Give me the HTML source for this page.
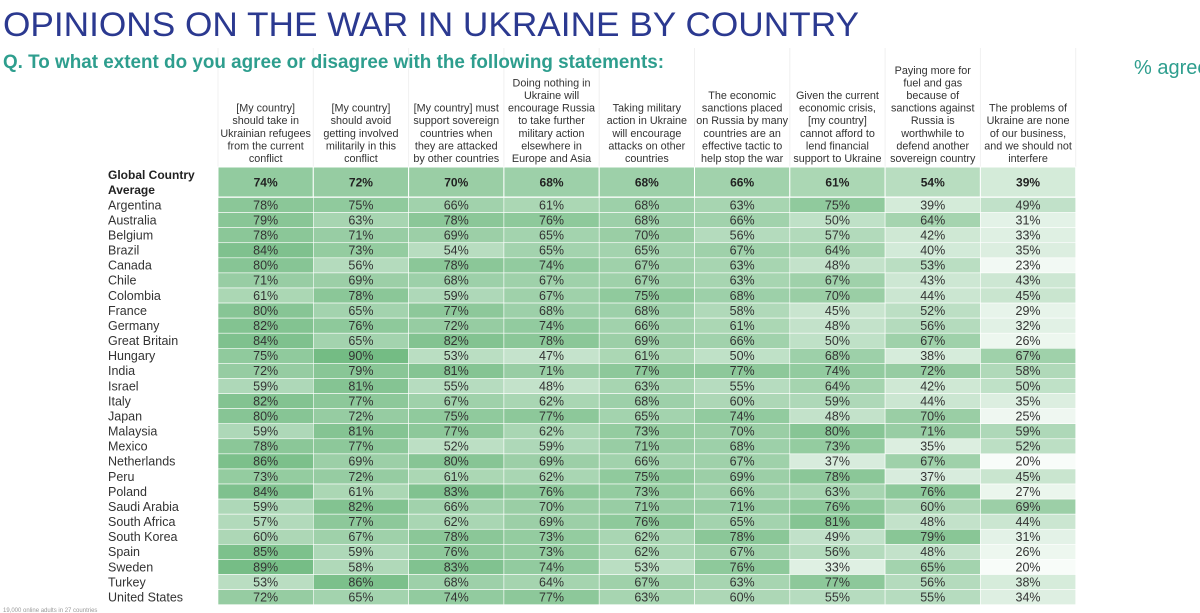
<!DOCTYPE html>
<html><head><meta charset="utf-8"><style>
html,body{margin:0;padding:0;background:#fff;width:1200px;height:613px;overflow:hidden}
svg{display:block;font-family:"Liberation Sans",Arial,sans-serif}
</style></head><body>
<svg id="chart" width="1200" height="613" viewBox="0 0 1200 613">
<g id="grid"></g>
<text x="3" y="36" font-size="34" fill="#2b3990" textLength="856" lengthAdjust="spacingAndGlyphs">OPINIONS ON THE WAR IN UKRAINE BY COUNTRY</text>
<text x="3" y="68" font-size="19" font-weight="bold" fill="#2e9e8e" textLength="661" lengthAdjust="spacingAndGlyphs">Q. To what extent do you agree or disagree with the following statements:</text>
<text x="1134" y="74" font-size="20" fill="#2e9e8e">% agree</text>
<text x="3" y="612" font-size="6" fill="#999">19,000 online adults in 27 countries</text>
</svg>
<script>
const statements = [
 ["[My country]","should take in","Ukrainian refugees","from the current","conflict"],
 ["[My country]","should avoid","getting involved","militarily in this","conflict"],
 ["[My country] must","support sovereign","countries when","they are attacked","by other countries"],
 ["Doing nothing in","Ukraine will","encourage Russia","to take further","military action","elsewhere in","Europe and Asia"],
 ["Taking military","action in Ukraine","will encourage","attacks on other","countries"],
 ["The economic","sanctions placed","on Russia by many","countries are an","effective tactic to","help stop the war"],
 ["Given the current","economic crisis,","[my country]","cannot afford to","lend financial","support to Ukraine"],
 ["Paying more for","fuel and gas","because of","sanctions against","Russia is","worthwhile to","defend another","sovereign country"],
 ["The problems of","Ukraine are none","of our business,","and we should not","interfere"]
];
const globalAverage = [74,72,70,68,68,66,61,54,39];
const countries = ["Argentina","Australia","Belgium","Brazil","Canada","Chile","Colombia","France","Germany","Great Britain","Hungary","India","Israel","Italy","Japan","Malaysia","Mexico","Netherlands","Peru","Poland","Saudi Arabia","South Africa","South Korea","Spain","Sweden","Turkey","United States"];
const values = [
 [78,75,66,61,68,63,75,39,49],
 [79,63,78,76,68,66,50,64,31],
 [78,71,69,65,70,56,57,42,33],
 [84,73,54,65,65,67,64,40,35],
 [80,56,78,74,67,63,48,53,23],
 [71,69,68,67,67,63,67,43,43],
 [61,78,59,67,75,68,70,44,45],
 [80,65,77,68,68,58,45,52,29],
 [82,76,72,74,66,61,48,56,32],
 [84,65,82,78,69,66,50,67,26],
 [75,90,53,47,61,50,68,38,67],
 [72,79,81,71,77,77,74,72,58],
 [59,81,55,48,63,55,64,42,50],
 [82,77,67,62,68,60,59,44,35],
 [80,72,75,77,65,74,48,70,25],
 [59,81,77,62,73,70,80,71,59],
 [78,77,52,59,71,68,73,35,52],
 [86,69,80,69,66,67,37,67,20],
 [73,72,61,62,75,69,78,37,45],
 [84,61,83,76,73,66,63,76,27],
 [59,82,66,70,71,71,76,60,69],
 [57,77,62,69,76,65,81,48,44],
 [60,67,78,73,62,78,49,79,31],
 [85,59,76,73,62,67,56,48,26],
 [89,58,83,74,53,76,33,65,20],
 [53,86,68,64,67,63,77,56,38],
 [72,65,74,77,63,60,55,55,34]
];
const NS="http://www.w3.org/2000/svg";
const g=document.getElementById("grid");
const x0=218,cw=95.3,hdrTop=48,gTop=167,gH=30,rTop=197.5,rh=15.08;
function colX(i){return x0+i*cw;}
function color(v){
  const t=Math.max(0,Math.min(1,(v-20)/70));
  const a=[248,252,249],b=[116,188,132];
  return "rgb("+a.map((c,k)=>Math.round(c+(b[k]-c)*t)).join(",")+")";
}
function el(tag,attrs,txt){const e=document.createElementNS(NS,tag);for(const k in attrs)e.setAttribute(k,attrs[k]);if(txt!=null)e.textContent=txt;g.appendChild(e);return e;}
for(let i=0;i<=9;i++){
  const l=el("line",{x1:colX(i),x2:colX(i),y1:hdrTop,y2:gTop,stroke:"#f0f0f0","stroke-width":1});
  
  
}
statements.forEach((lines,i)=>{
  const t=el("text",{x:colX(i)+cw/2,"text-anchor":"middle","font-size":"10.8",fill:"#333"});
  
  
  lines.forEach((s,j)=>{
    const ts=document.createElementNS(NS,"tspan");
    ts.setAttribute("x",colX(i)+cw/2);
    ts.setAttribute("y",162-(lines.length-1-j)*12.6);
    ts.textContent=s;t.appendChild(ts);
  });
});
const gl=el("text",{x:108,y:179,"font-size":"12","font-weight":"bold",fill:"#222"},"Global Country");


const gl2=el("text",{x:108,y:194,"font-size":"12","font-weight":"bold",fill:"#222"},"Average");


globalAverage.forEach((v,i)=>{
  const r=el("rect",{x:colX(i),y:gTop,width:cw,height:gH,fill:color(v),stroke:"#fff","stroke-width":1});
  
  
  const t=el("text",{x:colX(i)+cw/2,y:gTop+gH/2+4.5,"text-anchor":"middle","font-size":"12","font-weight":"bold",fill:"#222"},v+"%");
  
  
});
countries.forEach((c,r)=>{
  const y=rTop+r*rh;
  const lb=el("text",{x:108,y:y+rh/2+4.3,"font-size":"12.5",fill:"#333"},c);
  
  
  values[r].forEach((v,i)=>{
    const rc=el("rect",{x:colX(i),y:y,width:cw,height:rh,fill:color(v),stroke:"#fff","stroke-width":0.6});
    
    
    const t=el("text",{x:colX(i)+cw/2,y:y+rh/2+4.3,"text-anchor":"middle","font-size":"12.5",fill:"#333"},v+"%");
    
    
  });
});
</script>
</body></html>
